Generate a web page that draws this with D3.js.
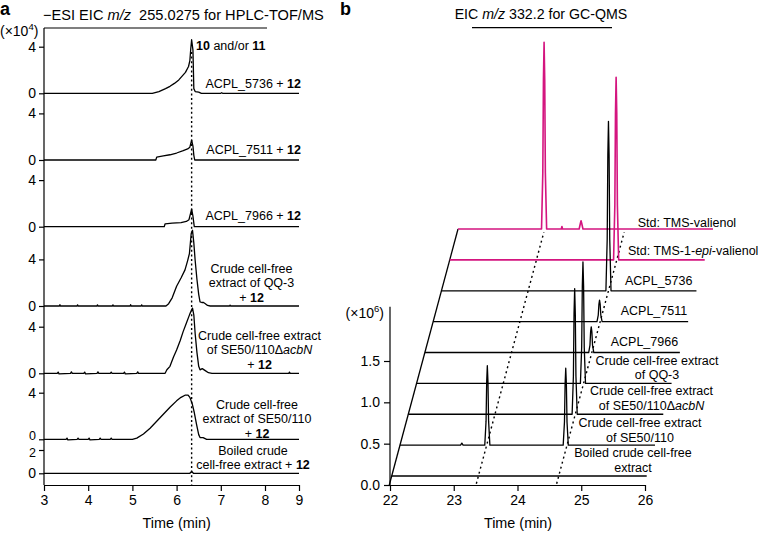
<!DOCTYPE html>
<html lang="en">
<head>
<meta charset="UTF-8">
<title>EIC chromatograms</title>
<script src="https://d3js.org/d3.v7.min.js"></script>
<style>
  body { margin: 0; background: #fff; }
  svg { display: block; font-family: "Liberation Sans", Arial, Helvetica, sans-serif; }
  .trace { fill: none; stroke: #000; stroke-width: 1.3; stroke-linejoin: round; }
  .lbl { font-size: 12.5px; }
  .title { white-space: pre; }
  .axis text { font-size: 14px; font-family: "Liberation Sans", Arial, sans-serif; }
  .axis line, .axis path { stroke-width: 1.2; }
</style>
</head>
<body>
<div id="chart"></div>
<script>
// ---- panel a: -ESI EIC m/z 255.0275 (HPLC-TOF/MS), [time min, intensity x10^4]
const aACPL5736 = [[3,0],[5.45,0],[5.6,0.15],[5.75,0.4],[5.85,0.6],[5.95,0.85],[6.05,1.15],[6.12,1.45],
  [6.2,1.8],[6.27,2.3],[6.3,2.8],[6.32,3.8],[6.34,4.6],[6.37,3.7],[6.39,0.4],[6.42,0.15],[6.5,0.1],[6.56,0],
  [7.0,0],[7.02,0.05],[7.04,0],[9,0]];
const aACPL7511 = [[3,0],[5.53,0],[5.55,0.25],[5.7,0.35],[5.85,0.45],[6.0,0.6],[6.15,0.8],[6.25,0.95],
  [6.3,1.1],[6.34,1.7],[6.37,1.2],[6.39,0.4],[6.41,0],[9,0]];
const aACPL7966 = [[3,0],[5.72,0],[5.74,0.25],[5.9,0.3],[6.1,0.35],[6.22,0.45],[6.28,0.6],[6.34,1.5],
  [6.37,0.9],[6.4,0],[9,0]];
const aQQ3 = [[3,0],[3.35,0],[3.36,0.12],[3.37,0],[3.75,0],[3.76,0.1],[3.77,0],[4.2,0],[4.21,0.1],[4.22,0],
  [4.55,0],[4.56,0.1],[4.57,0],[4.95,0],[4.96,0.12],[4.97,0],[5.2,0],[5.21,0.1],[5.22,0],
  [5.76,0],[5.82,0.2],[5.9,0.7],[6.0,1.7],[6.1,2.4],[6.19,3.1],[6.25,3.9],[6.29,4.5],
  [6.33,6.2],[6.36,6.5],[6.39,5.4],[6.42,3.9],[6.46,2.3],[6.5,1.0],[6.53,0.35],[6.57,0.3],[6.61,0.3],
  [6.65,0.2],[6.7,0.05],[6.76,0],[7.2,0],[7.21,0.08],[7.22,0],[9,0]];
const aAcbN = [[3,0],[3.3,0],[3.32,0.1],[3.34,-0.05],[3.6,0],[3.62,0.12],[3.64,0],[3.9,0],[3.92,0.1],[3.94,-0.05],
  [4.2,0],[4.22,0.12],[4.24,0],[4.5,0],[4.52,0.1],[4.54,0],[4.8,0],[4.82,0.1],[4.84,-0.05],[5.1,0],[5.12,0.12],
  [5.14,0],[5.74,0],[5.78,0.3],[5.85,0.6],[5.93,1.4],[6.0,2.0],[6.08,2.8],[6.15,3.6],[6.22,4.3],
  [6.3,5.1],[6.36,5.6],[6.39,5.0],[6.42,3.4],[6.46,1.8],[6.5,0.6],[6.53,0.3],[6.58,0.4],[6.64,0.25],
  [6.72,0.05],[6.8,0],[8.7,0],[8.72,0.1],[8.74,0],[9,0]];
const aSE50 = [[3,0],[3.5,0],[3.52,0.1],[3.54,-0.05],[3.75,0],[3.77,0.1],[3.79,0],[4.0,0],[4.02,0.1],[4.04,-0.05],
  [4.25,0],[4.27,0.1],[4.29,0],[4.5,0],[4.52,0.1],[4.54,0],[5.0,0],[5.1,0.1],[5.25,0.45],[5.4,0.95],
  [5.55,1.55],[5.7,2.15],[5.85,2.75],[6.0,3.3],[6.1,3.6],[6.2,3.8],[6.26,3.8],[6.3,3.6],[6.35,3.1],
  [6.4,2.3],[6.45,1.3],[6.5,0.4],[6.53,0.15],[6.6,0.15],[6.68,0],[9,0]];
const aBoiled = [[3,0],[6.3,0],[6.34,0.15],[6.38,0],[9,0]];

const aSeries = [aACPL5736, aACPL7511, aACPL7966, aQQ3, aAcbN, aSE50, aBoiled];
const aTickTop = [4, 4, 4, 4, 4, 4, 2];
const aXTicks = [3, 4, 5, 6, 7, 8, 9];
const aMarkTime = 6.34;
const aLabels = [
  ["ACPL_5736 + **12**"],
  ["ACPL_7511 + **12**"],
  ["ACPL_7966 + **12**"],
  ["Crude cell-free", "extract of QQ-3", "+ **12**"],
  ["Crude cell-free extract", "of SE50/110Δ*acbN*", "+ **12**"],
  ["Crude cell-free", "extract of SE50/110", "+ **12**"],
  ["Boiled crude", "cell-free extract + **12**"]
];
const aPeakLabel = "**10** and/or **11**";

// ---- panel b: EIC m/z 332.2 (GC-QMS), [time min, intensity x10^6], bottom to top
const bBoiled = [[22,0],[26,0]];
const bSE50 = [[22,0],[22.95,0],[22.97,0.025],[22.99,0],[23.33,0],[23.35,0.29],[23.36,0.77],[23.37,0.96],
  [23.38,0.77],[23.39,0.29],[23.41,0],[24.56,0],[24.58,0.28],[24.59,0.74],[24.6,0.93],[24.61,0.74],
  [24.62,0.28],[24.64,0],[26,0]];
const bAcbN = [[22,0],[24.57,0],[24.59,0.46],[24.6,1.22],[24.61,1.52],[24.62,1.22],[24.63,0.46],[24.65,0],[26,0]];
const bQQ3 = [[22,0],[24.57,0],[24.59,0.44],[24.6,1.18],[24.61,1.47],[24.62,1.18],[24.63,0.44],[24.65,0],[26,0]];
const bACPL7966 = [[22,0],[24.57,0],[24.59,0.09],[24.6,0.25],[24.61,0.31],[24.62,0.25],[24.63,0.09],[24.65,0],[26,0]];
const bACPL7511 = [[22,0],[24.57,0],[24.59,0.08],[24.6,0.21],[24.61,0.26],[24.62,0.21],[24.63,0.08],[24.65,0],[26,0]];
const bACPL5736 = [[22,0],[24.58,0],[24.6,0.62],[24.61,1.64],[24.62,2.05],[24.63,1.64],[24.64,0.62],[24.66,0],[26,0]];
const bStdEpi = [[22,0],[24.57,0],[24.59,0.66],[24.6,1.77],[24.61,2.21],[24.62,1.77],[24.63,0.66],[24.65,0],[26,0]];
const bStdVal = [[22,0],[23.31,0],[23.33,0.68],[23.34,1.81],[23.35,2.26],[23.36,1.81],[23.37,0.68],[23.39,0],
  [23.62,0],[23.63,0.03],[23.64,0],[23.9,0],[23.92,0.07],[23.93,0.1],[23.94,0.07],[23.96,0],[26,0]];

const bSeries = [bBoiled, bSE50, bAcbN, bQQ3, bACPL7966, bACPL7511, bACPL5736, bStdEpi, bStdVal];
const bIsStd = [false, false, false, false, false, false, false, true, true];
const bXTicks = [22, 23, 24, 25, 26];
const bYTicks = [0, 0.5, 1.0, 1.5];
const bMarkTimes = [23.36, 24.62];
const bLabels = [
  ["Boiled crude cell-free", "extract"],
  ["Crude cell-free extract", "of SE50/110"],
  ["Crude cell-free extract", "of SE50/110Δ*acbN*"],
  ["Crude cell-free extract", "of QQ-3"],
  ["ACPL_7966"],
  ["ACPL_7511"],
  ["ACPL_5736"],
  ["Std: TMS-1-*epi*-valienol"],
  ["Std: TMS-valienol"]
];

// ---- layout
const W = 758, H = 534;
const magenta = "#d4157f";
const aBase = [93.3, 160, 226.7, 306, 373.3, 439.3, 473.3];
const aUnit = 11.65;
const aLabelPos = [[301,87.5,"end",15],[301,154,"end",15],[301,220,"end",15],
  [251.5,272.5,"middle",14.8],[259.5,339.5,"middle",14.5],[257,408.5,"middle",14.5],[253,455,"middle",14]];
const bStepX = 8.29, bStepY = 30.87, bX0 = 1.7, bY0 = 9;
const bLabelPos = [[633,456.7,"middle",15],[640,426.7,"middle",15],[651.5,395,"middle",15],[657,365,"middle",14],
  [610.7,346,"start",15],[620.7,315,"start",15],[625,285,"start",15],[628,255,"start",15],[637.7,226.7,"start",15]];

const svg = d3.select("#chart").append("svg")
  .attr("width", W).attr("height", H);

// rich text: **bold**, *italic*
function richLine(sel, str) {
  str.split(/(\*\*[^*]+\*\*|\*[^*]+\*)/).filter(s => s.length).forEach(s => {
    const t = sel.append("tspan");
    if (s.startsWith("**")) t.attr("font-weight", "bold").text(s.slice(2, -2));
    else if (s.startsWith("*")) t.attr("font-style", "italic").text(s.slice(1, -1));
    else t.text(s);
  });
}
function block(lines, pos) {
  lines.forEach((ln, j) => {
    const t = svg.append("text").attr("class", "lbl")
      .attr("x", pos[0]).attr("y", pos[1] + j * pos[3])
      .attr("text-anchor", pos[2]);
    richLine(t, ln);
  });
}

// panel letters
svg.append("text").attr("x", 0).attr("y", 15).attr("font-size", 18).attr("font-weight", "bold").text("a");
svg.append("text").attr("x", 340).attr("y", 15).attr("font-size", 18).attr("font-weight", "bold").text("b");

// ================= panel a
const aX = d3.scaleLinear().domain([3, 8, 9]).range([44, 265, 299]);

svg.append("text").attr("class", "title").attr("x", 43).attr("y", 20).attr("font-size", 14.6)
  .call(t => {
    t.append("tspan").text("\u2212ESI EIC ");
    t.append("tspan").attr("font-style", "italic").text("m/z");
    t.append("tspan").text("  255.0275 for HPLC-TOF/MS");
  });
svg.append("line").attr("x1", 44).attr("x2", 267).attr("y1", 28).attr("y2", 28)
  .attr("stroke", "#000").attr("stroke-width", 1.2);
svg.append("line").attr("x1", 44).attr("x2", 44).attr("y1", 28).attr("y2", 485)
  .attr("stroke", "#000").attr("stroke-width", 1.2);

svg.append("text").attr("x", 0).attr("y", 35.5).attr("font-size", 14)
  .call(t => {
    t.append("tspan").text("(\u00d710");
    t.append("tspan").attr("font-size", 9.5).attr("dy", -6).text("4");
    t.append("tspan").attr("dy", 6).text(")");
  });

aSeries.forEach((ser, i) => {
  const y = d3.scaleLinear().domain([0, 4]).range([aBase[i], aBase[i] - 4 * aUnit]);
  const last = i === aSeries.length - 1, nextIsLast = i === aSeries.length - 2;
  svg.append("g").attr("class", "axis").attr("transform", "translate(44,0)")
    .call(d3.axisLeft(y).tickValues([0, aTickTop[i]]).tickFormat(d3.format("d")).tickSize(5).tickPadding(3))
    .call(g => g.select(".domain").remove())
    .call(g => g.selectAll(".tick text").each(function (d) {
      // the "0" of the sixth trace and the "2" of the last one sit very close together
      if (nextIsLast && d === 0) d3.select(this).attr("y", -3.5).style("font-size", "12.5px");
      if (last && d === aTickTop[i]) d3.select(this).attr("y", 2.5).style("font-size", "12.5px");
    }));
  svg.append("path").attr("class", "trace")
    .attr("d", d3.line().x(d => aX(d[0])).y(d => y(d[1]))(ser));
  block(aLabels[i], aLabelPos[i]);
});

const aPk = svg.append("text").attr("class", "lbl").attr("x", 196).attr("y", 50);
richLine(aPk, aPeakLabel);

svg.append("line").attr("x1", aX(aMarkTime)).attr("x2", aX(aMarkTime)).attr("y1", 52).attr("y2", 485)
  .attr("stroke", "#000").attr("stroke-width", 1.4).attr("stroke-dasharray", "2,2.6");

svg.append("g").attr("class", "axis").attr("transform", "translate(0,485)")
  .call(d3.axisBottom(aX).tickValues(aXTicks).tickFormat(d3.format("d")).tickSize(6).tickSizeOuter(0).tickPadding(4));
svg.append("text").attr("x", aX(6)).attr("y", 528).attr("text-anchor", "middle").attr("font-size", 14.4).text("Time (min)");

// ================= panel b
const bX = d3.scaleLinear().domain([22, 26]).range([390, 645]);
const bY = d3.scaleLinear().domain([0, 1.5]).range([485, 361]);
const offX = k => bX0 + bStepX * k;
const offY = k => bY0 + bStepY * k;

svg.append("text").attr("class", "title").attr("x", 541).attr("y", 19).attr("font-size", 14.2).attr("text-anchor", "middle")
  .call(t => {
    t.append("tspan").text("EIC ");
    t.append("tspan").attr("font-style", "italic").text("m/z");
    t.append("tspan").text(" 332.2 for GC-QMS");
  });
svg.append("line").attr("x1", 472).attr("x2", 612).attr("y1", 27.7).attr("y2", 27.7)
  .attr("stroke", "#000").attr("stroke-width", 1.2);

// y axis
svg.append("g").attr("class", "axis").attr("transform", "translate(390,0)")
  .call(d3.axisLeft(bY).tickValues(bYTicks).tickFormat(d3.format(".1f")).tickSize(6).tickPadding(4))
  .call(g => g.select(".domain").remove());
svg.append("line").attr("x1", 390).attr("x2", 390).attr("y1", 485).attr("y2", 306.7)
  .attr("stroke", "#000").attr("stroke-width", 1.2);
svg.append("text").attr("x", 384).attr("y", 318).attr("font-size", 14).attr("text-anchor", "end")
  .call(t => {
    t.append("tspan").text("(\u00d710");
    t.append("tspan").attr("font-size", 9.5).attr("dy", -6).text("6");
    t.append("tspan").attr("dy", 6).text(")");
  });

// slanted start line through the trace origins
const kBottom = -bY0 / bStepY;
svg.append("line")
  .attr("x1", bX(22) + offX(kBottom)).attr("y1", bY(0) - offY(kBottom))
  .attr("x2", bX(22) + offX(bSeries.length - 1)).attr("y2", bY(0) - offY(bSeries.length - 1))
  .attr("stroke", "#000").attr("stroke-width", 1.3);

// dotted guide lines along the stack
bMarkTimes.forEach(t => {
  const k0 = -0.25, k1 = 7.9;
  svg.append("line")
    .attr("x1", bX(t) + offX(k0)).attr("y1", bY(0) - offY(k0))
    .attr("x2", bX(t) + offX(k1)).attr("y2", bY(0) - offY(k1))
    .attr("stroke", "#000").attr("stroke-width", 1.4).attr("stroke-dasharray", "2,3.2");
});

// traces: draw top to bottom so lower traces sit in front
for (let k = bSeries.length - 1; k >= 0; k--) {
  const line = d3.line().x(d => bX(d[0]) + offX(k)).y(d => bY(d[1]) - offY(k));
  svg.append("path").attr("class", "trace")
    .style("stroke", bIsStd[k] ? magenta : "#000")
    .style("stroke-width", bIsStd[k] ? 1.6 : 1.3)
    .attr("d", line(bSeries[k]));
}
bLabels.forEach((lines, k) => block(lines, bLabelPos[k]));

svg.append("g").attr("class", "axis").attr("transform", "translate(0,485)")
  .call(d3.axisBottom(bX).tickValues(bXTicks).tickFormat(d3.format("d")).tickSize(6).tickSizeOuter(0).tickPadding(4));
svg.append("text").attr("x", 518).attr("y", 528).attr("text-anchor", "middle").attr("font-size", 14.4).text("Time (min)");
</script>
</body>
</html>
